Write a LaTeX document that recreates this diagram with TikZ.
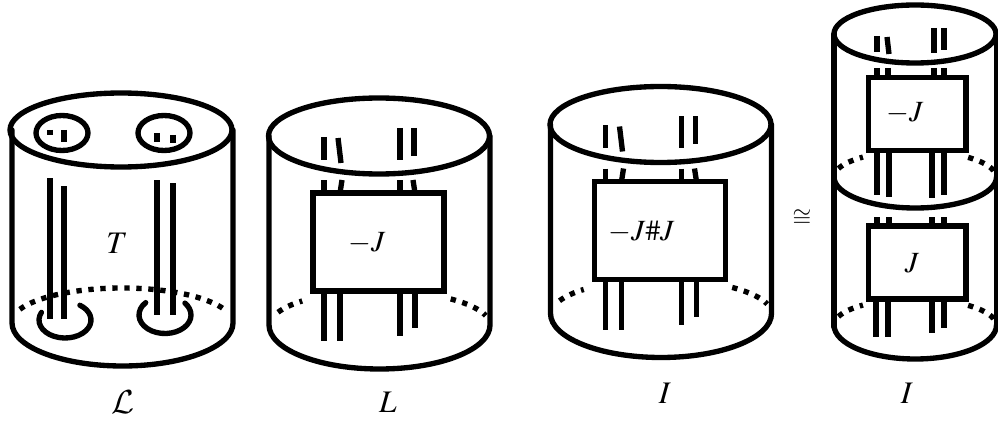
\documentclass[tikz,border=0pt]{standalone}
\usepackage{tikz}
\usepackage{mathptmx}
\DeclareMathAlphabet{\mathcal}{OMS}{cmsy}{m}{n}
\tikzset{rim/.style={line width=4pt, line cap=round},
strand/.style={line width=4pt},
backrim/.style={line width=4pt, dash pattern=on 4pt off 5pt},
tanglebox/.style={draw=black, fill=white, line width=4pt, line join=miter},
labeltext/.style={scale=2.2},
bigtext/.style={scale=2.35}}

\begin{document}
\begin{tikzpicture}[x=0.75pt, y=-0.75pt]
    \useasboundingbox (0,0) rectangle (998,424);

    % Left cylinder
    \draw[rim] (121,130) ellipse (111 and 37);
    \draw[rim] (12,130) -- (12,323) arc (180:0:110.5 and 43) -- (233,130);
    \draw[backrim] (122,323) ++(203:111 and 35) arc (203:337:111 and 35);
    \draw[rim] (62,133) ellipse (26 and 17.5);
    \draw[rim] (164,133) ellipse (26 and 17.5);
    \foreach \x/\ya/\yb in {50/130/135, 64/130/142, 157/133/142, 173/135/143} {
\draw[strand] (\x,\ya) -- (\x,\yb);
}
    \draw[rim] (65,320) ++(205:26 and 18) arc (205:-55:26 and 18);
    \draw[rim] (165,315) ++(222:26 and 18.5) arc (222:-40:26 and 18.5);
    \foreach \x/\ya/\yb in {50/178/319, 64/186/319, 157/180/315, 173/183/315} {
\draw[strand] (\x,\ya) -- (\x,\yb);
}
    \node[bigtext] (tlabel) at (117,243) {$T$};
    \node[scale=2.5] (cl) at (123,402) {$\mathcal{L}$};

    % Middle cylinders
    \foreach \dx/\dy/\jtext/\jx/\name in {0/0/$-J$/367/l, 281.5/-11.5/$-J\#J$/360/i} {
\begin{scope}[shift={(\dx,\dy)}]
    \draw[rim] (379,136) ellipse (110.5 and 38);
    \draw[rim] (269,136) -- (269,325) arc (180:0:110.5 and 44) -- (490,136);
    \draw[backrim] (380,325) ++(202:110 and 34) arc (202:225:110 and 34);
    \draw[backrim] (380,325) ++(310:110 and 34) arc (310:344:110 and 34);
    \draw[strand] (324,137) -- (324,160);
    \draw[strand] (338,138) -- (341,163);
    \draw[strand] (400,128) -- (400,160);
    \draw[strand] (414,128) -- (414,156);
    \draw[strand] (324,180) -- (324,193);
    \draw[strand] (342,180) -- (340,193);
    \draw[strand] (400,180) -- (400,193);
    \draw[strand] (413,180) -- (415,193);
    \draw[strand] (324,291) -- (324,341);
    \draw[strand] (340,291) -- (340,341);
    \draw[strand] (400,291) -- (400,336);
    \draw[strand] (415,291) -- (415,328);
    \draw[tanglebox] (313,193) rectangle (444,291);
    \node[labeltext] (\name box) at (\jx,243) {\jtext};
\end{scope}
}
    \node[bigtext] (llabel) at (388,402) {$L$};
    \node[bigtext] (ilabel) at (665,393) {$I$};

    % Right stacked cylinder
    \node[scale=1.8, inner sep=0pt] (iso) at (802,218) {$\cong$};
    \draw[rim] (915,34) ellipse (81 and 29);
    \draw[rim] (834,34) -- (834,327);
    \draw[rim] (996.5,34) -- (996.5,325);
    \draw[rim] (834,177) arc (180:0:81.25 and 31);
    \draw[rim] (834,325) arc (180:0:81.25 and 34);
    \foreach \cy in {177,325} {
\draw[backrim] (915,\cy) ++(199:81 and 26) arc (199:230:81 and 26);
\draw[backrim] (915,\cy) ++(311:81 and 26) arc (311:350:81 and 26);
}
    \foreach \xa/\xb/\ya/\yb in {877/877/36/52, 887/889/37/54, 934/934/28/53, 944/944/28/50, 877/877/68/77, 888/888/68/77, 934/934/68/77, 944/944/68/77, 877/877/150/195, 889/889/150/197, 932/932/150/198, 944/944/150/195, 877/877/217/226, 889/889/217/226, 932/932/217/226, 944/944/217/226, 876/876/299/337, 888/888/299/337, 932/932/299/333, 944/944/299/328} {
\draw[strand] (\xa,\ya) -- (\xb,\yb);
}
    \draw[tanglebox] (868.5,77.5) rectangle (966,150.5);
    \draw[tanglebox] (868.5,226) rectangle (966,299);
    \node[labeltext] (mjbox) at (905,113) {$-J$};
    \node[labeltext] (jbox) at (912,263) {$J$};
    \node[bigtext] (istack) at (907,393) {$I$};
\end{tikzpicture}
\end{document}
